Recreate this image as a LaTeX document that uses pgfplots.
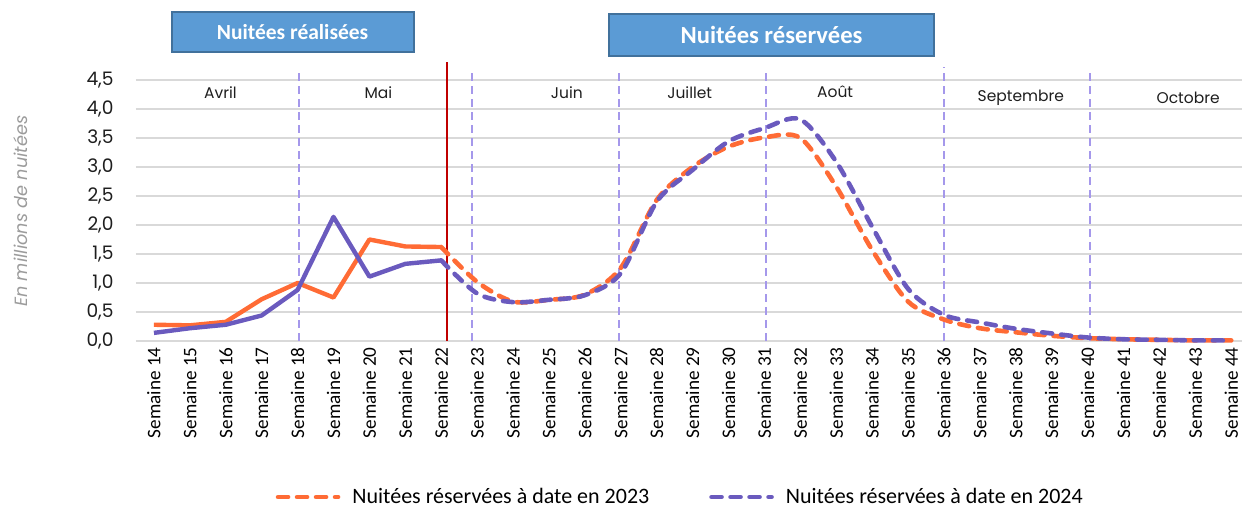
\documentclass[border=0pt]{standalone}
\usepackage{fontspec}
\setmainfont{Carlito}
\newfontfamily\pop{Poppins}
\usepackage{pgfplots}
\pgfplotsset{compat=1.18}
\definecolor{orng}{RGB}{255,107,53}
\definecolor{purp}{RGB}{106,90,190}
\definecolor{vline}{RGB}{165,152,235}
\definecolor{gridc}{RGB}{217,217,217}
\definecolor{boxfill}{RGB}{91,155,213}
\definecolor{boxdraw}{RGB}{65,113,156}
\definecolor{redl}{RGB}{192,0,0}
\definecolor{txt}{RGB}{30,30,30}
\begin{document}
\begin{tikzpicture}
\begin{axis}[
  scale only axis, width=553pt, height=130.5pt,
  xmin=-0.5, xmax=30.3, ymin=0, ymax=4.5,
  clip=false,
  axis line style={draw=none},
  tick style={draw=none},
  major tick length=0pt,
  ytick={0,0.5,1,1.5,2,2.5,3,3.5,4,4.5},
  ymajorgrids, grid style={gridc, line width=1pt},
  xtick={0,...,30},
  xticklabels={Semaine 14,Semaine 15,Semaine 16,Semaine 17,Semaine 18,Semaine 19,Semaine 20,Semaine 21,Semaine 22,Semaine 23,Semaine 24,Semaine 25,Semaine 26,Semaine 27,Semaine 28,Semaine 29,Semaine 30,Semaine 31,Semaine 32,Semaine 33,Semaine 34,Semaine 35,Semaine 36,Semaine 37,Semaine 38,Semaine 39,Semaine 40,Semaine 41,Semaine 42,Semaine 43,Semaine 44},
  xticklabel style={yshift=-3pt, rotate=90, anchor=east, inner sep=0pt, font=\fontsize{9.6}{10}\selectfont, text=black},
  yticklabel style={anchor=east, inner sep=0pt, xshift=-11pt, font=\pop\fontsize{9.3}{10}\selectfont, text=txt},
  /pgf/number format/use comma,
  /pgf/number format/fixed,
  /pgf/number format/fixed zerofill,
  /pgf/number format/precision=1,
  /pgf/number format/assume math mode=true,
  legend columns=2,
  legend style={draw=none, fill=none, at={(0.493,-0.598)}, anchor=center, font=\fontsize{11}{13}\selectfont, /tikz/every odd column/.append style={column sep=4pt}, /tikz/every even column/.append style={column sep=28pt}},
  legend image code/.code={\draw[#1] (0pt,0pt) -- (30pt,0pt);},
]
\coordinate (BL) at (axis cs:-0.5,0);
% month separators
\draw[vline, line width=0.9pt, dash pattern=on 4pt off 2.5pt] (axis cs:4.03,0) -- (axis cs:4.03,4.7);
\draw[vline, line width=0.9pt, dash pattern=on 4pt off 2.5pt] (axis cs:8.86,0) -- (axis cs:8.86,4.68);
\draw[vline, line width=0.9pt, dash pattern=on 4pt off 2.5pt] (axis cs:12.95,0) -- (axis cs:12.95,4.68);
\draw[vline, line width=0.9pt, dash pattern=on 4pt off 2.5pt] (axis cs:17.05,0) -- (axis cs:17.05,4.7);
\draw[vline, line width=0.9pt, dash pattern=on 4pt off 2.5pt] (axis cs:22,0) -- (axis cs:22,4.72);
\draw[vline, line width=0.9pt, dash pattern=on 4pt off 2.5pt] (axis cs:26.07,0) -- (axis cs:26.07,4.7);
\draw[redl, line width=1.1pt] (axis cs:8.17,0) -- (axis cs:8.17,4.81);
% month labels
\begin{scope}[every node/.style={font=\pop\fontsize{7.75}{9}\selectfont, text=txt}]
\node at (axis cs:1.85,4.29) {Avril};
\node at (axis cs:6.25,4.29) {Mai};
\node at (axis cs:11.5,4.29) {Juin};
\node at (axis cs:14.92,4.29) {Juillet};
\node at (axis cs:18.97,4.29) {Août};
\node at (axis cs:24.14,4.19) {Septembre};
\node at (axis cs:28.8,4.19) {Octobre};
\end{scope}
% boxes
\node[fill=boxfill, draw=boxdraw, line width=1pt, minimum width=121pt, minimum height=20pt, inner sep=0pt, text=white, font=\bfseries\fontsize{10.75}{12}\selectfont] at (axis cs:3.86,5.33) {Nuitées réalisées};
\node[fill=boxfill, draw=boxdraw, line width=1pt, minimum width=162.5pt, minimum height=21pt, inner sep=0pt, text=white, font=\bfseries\fontsize{12.3}{14}\selectfont] at (axis cs:17.2,5.28) {Nuitées réservées};
% y label
\node[rotate=90, text={rgb,255:red,155;green,155;blue,155}, font=\pop\itshape\fontsize{8.85}{10}\selectfont] at ([xshift=-57.5pt]axis cs:-0.5,2.24) {En millions de nuitées};
% data
\addplot[orng, line width=2.2pt, line join=round, forget plot] coordinates {
(0,0.28) (1,0.27) (2,0.33) (3,0.72) (4,1.00) (5,0.75) (6,1.75) (7,1.63) (8,1.62)};
\addplot[purp, line width=2.2pt, line join=round, forget plot] coordinates {
(0,0.14) (1,0.22) (2,0.28) (3,0.44) (4,0.88) (5,2.14) (6,1.11) (7,1.33) (8,1.39)};
\addplot[orng, line width=2.3pt, smooth, tension=0.5, line cap=round, dash pattern=on 5pt off 4.5pt] coordinates {
(8,1.62) (9,1.02) (10,0.68) (11,0.71) (12,0.80) (13,1.26) (14,2.43) (15,3.00) (16,3.35) (17,3.51) (18,3.50) (19,2.66) (20,1.57) (21,0.68) (22,0.37) (23,0.22) (24,0.15) (25,0.09) (26,0.05) (27,0.03) (28,0.02) (29,0.01) (30,0.01)};
\addlegendentry{Nuitées réservées à date en 2023}
\addplot[purp, line width=2.3pt, smooth, tension=0.5, line cap=round, dash pattern=on 5pt off 4.5pt] coordinates {
(8,1.39) (9,0.82) (10,0.67) (11,0.71) (12,0.79) (13,1.17) (14,2.40) (15,2.95) (16,3.44) (17,3.67) (18,3.82) (19,3.09) (20,1.97) (21,0.90) (22,0.45) (23,0.32) (24,0.21) (25,0.13) (26,0.06) (27,0.03) (28,0.02) (29,0.01) (30,0.01)};
\addlegendentry{Nuitées réservées à date en 2024}
\end{axis}
\pgfresetboundingbox
\path[use as bounding box] ([xshift=-68pt,yshift=-82.5pt]BL) rectangle ([xshift=553pt,yshift=170.5pt]BL);
\end{tikzpicture}
\end{document}
